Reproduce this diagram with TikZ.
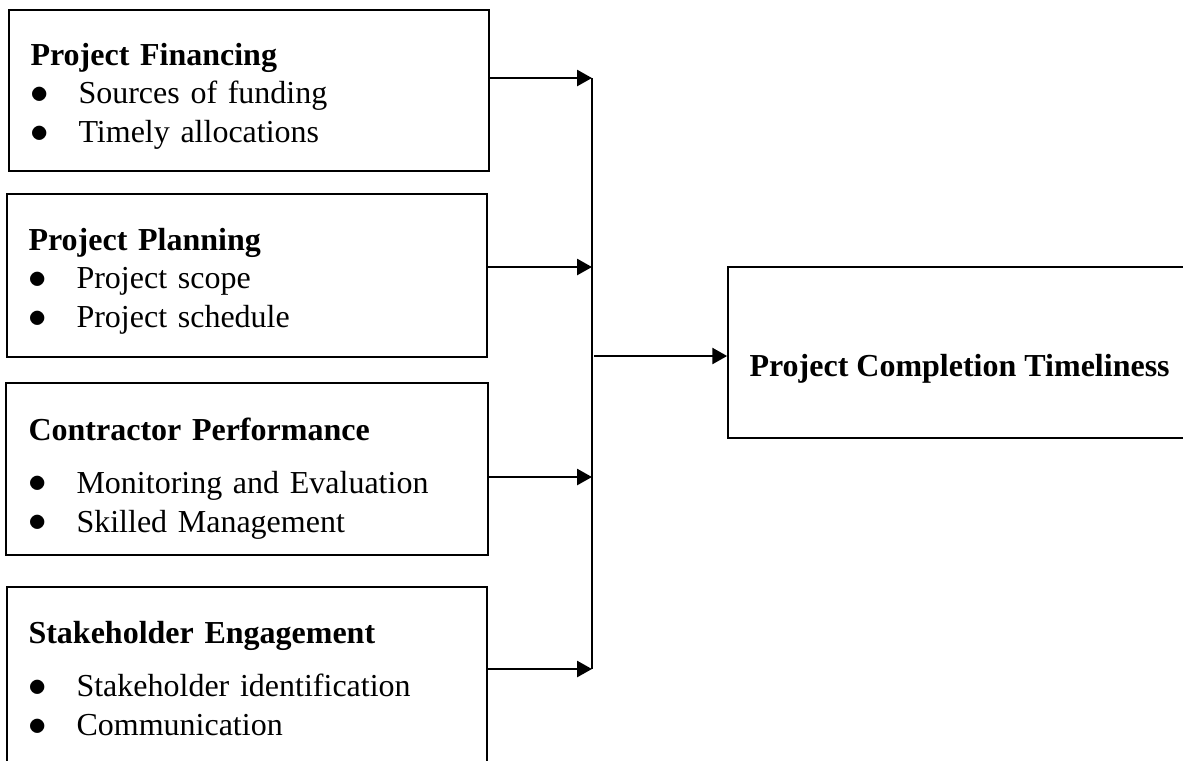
\documentclass[tikz,border=0pt]{standalone}
\usepackage{fontspec}
\setmainfont{Liberation Serif}
\usetikzlibrary{arrows.meta,fit}
\newcommand{\itm}[1]{\makebox[18pt][l]{\hspace{0.1pt}\raisebox{0.1pt}{\scalebox{1.15}{$\bullet$}}}#1}

\begin{document}
\begin{tikzpicture}[x=0.375pt, y=-0.375pt,
 every node/.style={font=\fontsize{12}{14.6}\selectfont},
 box/.style={draw,line width=0.6pt,inner sep=0pt},
 txt/.style={anchor=base west,inner sep=0pt,align=left,text width=165pt},
 arr/.style={line width=0.95pt,-{Triangle[length=5.6pt,width=6pt]}}]
\clip (0,0) rectangle (1183,760);
% frames
\node[box,fit={(9,10) (489,171)}] (fin) {};
\node[box,fit={(7,194) (487,357)}] (plan) {};
\node[box,fit={(6,383) (488,555)}] (perf) {};
\node[box,fit={(7,587) (487,775)}] (stake) {};
\node[box,fit={(728,267) (1195,438)}] (out) {};
% texts
\node[txt] (fin-txt) at (30,65) {\textbf{Project Financing}\\
\itm{Sources of funding}\\ \itm{Timely allocations}};
\node[txt] (plan-txt) at (28,250) {\textbf{Project Planning}\\
\itm{Project scope}\\ \itm{Project schedule}};
\node[txt] (perf-txt) at (28,440) {\textbf{Contractor Performance}\\[5.3pt]
\itm{Monitoring and Evaluation}\\ \itm{Skilled Management}};
\node[txt] (stake-txt) at (28,643) {\textbf{Stakeholder Engagement}\\[5.6pt]
\itm{Stakeholder identification}\\ \itm{Communication}};
\node[anchor=base west,inner sep=0pt] (out-txt) at (749,376)
 {\textbf{Project Completion Timeliness}};
% bus line and arrows
\coordinate (j1) at (592,78);
\coordinate (j2) at (592,267);
\coordinate (j3) at (592,477);
\coordinate (j4) at (592,669);
\coordinate (jo) at (594,356);
\draw[line width=0.5pt] (j1) -- (j4);
\foreach \b/\j in {fin/j1,plan/j2,perf/j3,stake/j4}
 \draw[arr] (\j -| \b.east) -- (\j);
\draw[arr] (jo) -- (jo -| out.west);
\end{tikzpicture}
\end{document}
